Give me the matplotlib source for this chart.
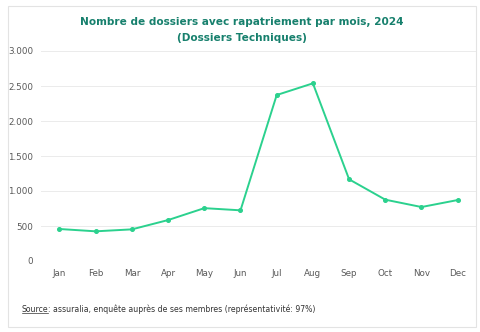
"""Monthly repatriation files chart, 2024."""

import matplotlib

matplotlib.use("Agg")
import matplotlib.pyplot as plt
from matplotlib.patches import Rectangle

months = ["Jan", "Feb", "Mar", "Apr", "May", "Jun", "Jul", "Aug", "Sep", "Oct", "Nov", "Dec"]
dossiers = [457, 424, 452, 585, 755, 724, 2371, 2538, 1167, 876, 771, 871]
y_ticks = [0, 500, 1000, 1500, 2000, 2500, 3000]
y_tick_labels = ["0", "500", "1.000", "1.500", "2.000", "2.500", "3.000"]

TITLE_COLOR = "#17806d"
LINE_COLOR = "#2bd18e"
TICK_COLOR = "#595959"

W, H = 481, 332
fig = plt.figure(figsize=(W / 100, H / 100), dpi=100)

# card background with a faint border, kept behind the axes
fig.patches.append(
    Rectangle((8 / W, 1 - 327 / H), 468 / W, 321 / H, transform=fig.transFigure,
              facecolor="white", edgecolor="#e3e3e3", linewidth=0.8, zorder=-5)
)

ax = fig.add_axes([41.4 / W, 71 / H, 434.4 / W, 210 / H])
x = list(range(len(months)))
ax.plot(x, dossiers, color=LINE_COLOR, linewidth=1.4, marker="o", markersize=2.6)
ax.set_xlim(-0.5, len(months) - 0.5)
ax.set_ylim(0, 3000)
ax.set_xticks(x)
ax.set_xticklabels(months)
ax.set_yticks(y_ticks)
ax.set_yticklabels(y_tick_labels)
ax.tick_params(axis="both", length=0, labelsize=6.3, colors=TICK_COLOR, pad=6)
ax.tick_params(axis="y", pad=6)
ax.grid(axis="y", color="#ebebeb", linewidth=0.7)
ax.set_axisbelow(True)
for spine in ax.spines.values():
    spine.set_visible(False)
ax.set_facecolor("none")

fig.text(242 / W, 1 - 22 / H, "Nombre de dossiers avec rapatriement par mois, 2024",
         ha="center", va="center", fontsize=7.6, fontweight="bold", color=TITLE_COLOR,
         family="DejaVu Sans")
fig.text(242 / W, 1 - 38 / H, "(Dossiers Techniques)",
         ha="center", va="center", fontsize=7.6, fontweight="bold", color=TITLE_COLOR,
         family="DejaVu Sans")

# footnote with underlined "Source"
src = fig.text(22 / W, 1 - 309 / H, "Source", ha="left", va="center", fontsize=5.6,
               color="#333333", family="DejaVu Sans")
fig.canvas.draw()
bb = src.get_window_extent().transformed(fig.transFigure.inverted())
fig.add_artist(plt.Line2D([bb.x0, bb.x1 - 1 / W], [bb.y0 + 1 / H, bb.y0 + 1 / H],
                          transform=fig.transFigure, color="#333333", linewidth=0.5))
fig.text(bb.x1 - 1 / W, 1 - 309 / H,
         ": assuralia, enquête auprès de ses membres (représentativité: 97%)",
         ha="left", va="center", fontsize=5.6, color="#333333", family="DejaVu Sans")

fig.savefig("out.png", dpi=100)
